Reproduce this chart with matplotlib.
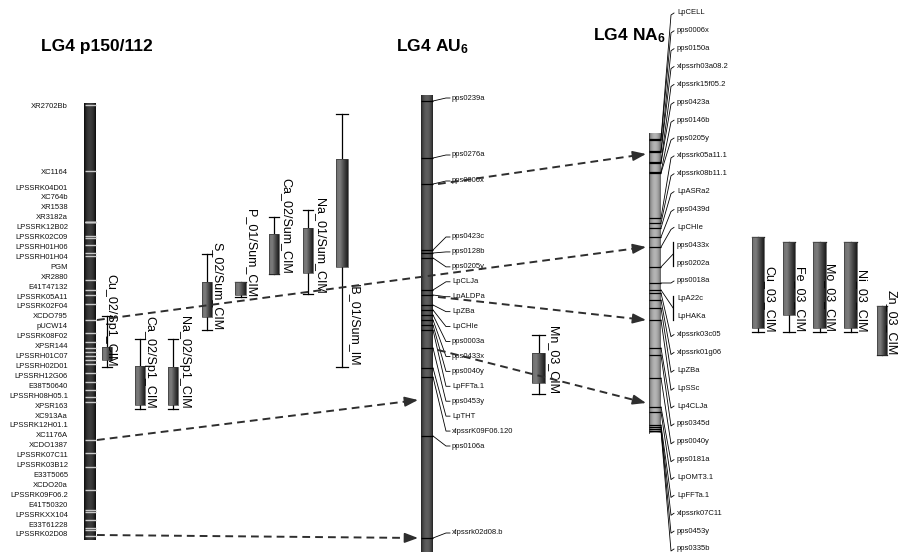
import numpy as np
import matplotlib
matplotlib.use('Agg')
import matplotlib.pyplot as plt
from matplotlib.colors import LinearSegmentedColormap

plt.rcParams['font.family'] = ['Liberation Sans', 'DejaVu Sans']
plt.rcParams['mathtext.fontset'] = 'custom'
plt.rcParams['mathtext.rm'] = 'Liberation Sans'
plt.rcParams['mathtext.bf'] = 'Liberation Sans:bold'

# ---------------- data ----------------
p150_markers = ["XR2702Bb", "XC1164", "LPSSRK04D01", "XC764b", "XR1538", "XR3182a",
                "LPSSRK12B02", "LPSSRK02C09", "LPSSRH01H06", "LPSSRH01H04", "PGM",
                "XR2880", "E41T47132", "LPSSRK05A11", "LPSSRK02F04", "XCDO795",
                "pUCW14", "LPSSRK08F02", "XPSR144", "LPSSRH01C07", "LPSSRH02D01",
                "LPSSRH12G06", "E38T50640", "LPSSRH08H05.1", "XPSR163", "XC913Aa",
                "LPSSRK12H01.1", "XC1176A", "XCDO1387", "LPSSRK07C11", "LPSSRK03B12",
                "E33T5065", "XCDO20a", "LPSSRK09F06.2", "E41T50320", "LPSSRKXX104",
                "E33T61228", "LPSSRK02D08"]
p150_pos = [105, 171, 222, 222, 222, 222, 236, 238, 245, 253, 256, 280, 290, 295, 304,
            320, 333, 342, 348, 352, 356, 360, 364, 373, 382, 390, 397, 402, 440, 453,
            467, 490, 510, 512, 520, 528, 530, 536]
p150_span = (103, 540)

au6_markers = ["pps0239a", "pps0276a", "pps0006x", "pps0423c", "pps0128b", "pps0205y",
               "LpCLJa", "LpALDPa", "LpZBa", "LpCHIe", "pps0003a", "pps0433x",
               "pps0040y", "LpFFTa.1", "pps0453y", "LpTHT", "xlpssrK09F06.120",
               "pps0106a", "xlpssrk02d08.b"]
au6_pos = [101, 158, 184, 250, 253, 258, 290, 295, 305, 310, 315, 320, 325, 330, 348,
           368, 377, 436, 538]
au6_span = (95, 552)

na6_markers = ["LpCELL", "pps0006x", "pps0150a", "xlpssrh03a08.2", "xlpssrk15f05.2",
               "pps0423a", "pps0146b", "pps0205y", "xlpssrk05a11.1", "xlpssrk08b11.1",
               "LpASRa2", "pps0439d", "LpCHIe", "pps0433x", "pps0202a", "pps0018a",
               "LpA22c", "LpHAKa", "xlpssrk03c05", "xlpssrk01g06", "LpZBa", "LpSSc",
               "Lp4CLJa", "pps0345d", "pps0040y", "pps0181a", "LpOMT3.1", "LpFFTa.1",
               "xlpssrk07C11", "pps0453y", "pps0335b"]
na6_pos = [139, 140, 151, 152, 162, 163, 172, 173, 218, 223, 228, 237, 247, 267, 267,
           283, 290, 290, 293, 300, 308, 320, 348, 355, 378, 407, 412, 425, 427, 429, 431]
na6_span = (133, 433)

qtl_names = ["Cu_02/Sp1_CIM", "Ca_02/Sp1_CIM", "Na_02/Sp1_CIM", "S_02/Sum_CIM",
             "P_01/Sum_CIM", "Ca_02/Sum_CIM", "Na_01/Sum_CIM", "IB_01/Sum_IM",
             "Mn_03_CIM", "Cu_03_CIM", "Fe_03_CIM", "Mo_03_CIM", "Ni_03_CIM", "Zn_03_CIM"]
qtl_box_top = [347, 366, 367, 282, 282, 234, 228, 159, 353, 237, 242, 242, 242, 306]
qtl_box_bottom = [360, 405, 405, 317, 295, 274, 273, 267, 383, 328, 315, 328, 328, 355]
qtl_ci_top = [316, 339, 339, 254, 282, 217, 210, 114, 335, 237, 242, 242, 242, 306]
qtl_ci_bottom = [367, 409, 409, 330, 297, 274, 294, 367, 394, 332, 332, 332, 332, 355]

arrow_from_map = ["p150", "AU6", "AU6", "AU6", "p150", "p150"]
arrow_from_pos = [320, 184, 297, 350, 440, 535]
arrow_to_map = ["NA6", "NA6", "NA6", "NA6", "AU6", "AU6"]
arrow_to_pos = [247, 154, 320, 403, 400, 538]

# ---------------- layout ----------------
W, H = 899, 554
chrom_x = {"p150": (84, 96), "AU6": (421, 433), "NA6": (649, 661)}
qtl_x = [106.5, 140, 173, 207, 240.5, 274, 308, 342, 538.5, 758, 789, 819.5, 850.5, 882]
qtl_w = [10, 10, 10, 10, 11, 10, 10, 12, 13, 12, 12, 13, 13, 10]
qtl_label_dx = [4, 9, 11, 10, 10.5, 12, 12, 12, 14.5, 11, 10, 9.5, 10.5, 10]
arrow_start_x = {"p150": 97, "AU6": 438}
arrow_end_x = {"AU6": 418, "NA6": 646}

fig = plt.figure(figsize=(W / 100, H / 100), dpi=100)
ax = fig.add_axes([0, 0, 1, 1])
ax.axis('off')


def cylinder(x0, x1, y0, y1, c_edge, c_mid, z):
    t = np.linspace(0, 1, 64)
    v = np.sin(np.pi * t) ** 0.7
    cmap = LinearSegmentedColormap.from_list('c', [c_edge, c_mid])
    ax.imshow(v[None, :], extent=(x0, x1, y1, y0), cmap=cmap, vmin=0, vmax=1,
              aspect='auto', interpolation='bilinear', zorder=z)


def box_grad(x0, x1, y0, y1, z):
    t = np.linspace(0, 1, 64)
    cmap = LinearSegmentedColormap.from_list('b', ['#707070', '#7c7c7c', '#4a4a4a', '#1c1c1c'])
    ax.imshow(t[None, :], extent=(x0, x1, y1, y0), cmap=cmap, vmin=0, vmax=1,
              aspect='auto', interpolation='bilinear', zorder=z)


MK_FS = 5.5

# ---- p150/112 ----
x0, x1 = chrom_x["p150"]
cylinder(x0, x1, p150_span[0], p150_span[1], '#050505', '#3c3c3c', 2)
for y in p150_pos:
    ax.plot([x0 + 0.5, x1 - 0.5], [y, y], color='#c8c8c8', lw=1.0, zorder=3,
            solid_capstyle='butt')
p150_label_y = np.r_[np.array(p150_pos[:2]) + 2, np.linspace(188, 535, len(p150_pos) - 2)]
for name, ly in zip(p150_markers, p150_label_y):
    ax.text(68, ly, name, ha='right', va='center', fontsize=MK_FS, color='#111111')

# ---- AU6 ----
x0, x1 = chrom_x["AU6"]
cylinder(x0, x1, au6_span[0], au6_span[1], '#1c1c1c', '#5e5e5e', 2)
au6_label_y = np.r_[np.array(au6_pos[:3]) - 3, np.linspace(237, 446, 15), au6_pos[-1] - 5]
for name, my, ly in zip(au6_markers, au6_pos, au6_label_y):
    ax.plot([x0, x1], [my, my], color='black', lw=0.9, zorder=3, solid_capstyle='butt')
    ax.plot([x1, 446, 450], [my, ly, ly], color='black', lw=0.6, zorder=3)
    ax.text(452, ly, name, ha='left', va='center', fontsize=MK_FS, color='#111111')

# ---- NA6 ----
x0, x1 = chrom_x["NA6"]
cylinder(x0, x1, na6_span[0], na6_span[1], '#5a5a5a', '#b4b4b4', 2)
ax.plot([x0, x0], na6_span, color='#333333', lw=0.6, zorder=3)
na6_label_y = np.linspace(13, 549, len(na6_pos))
i = 0
n = len(na6_pos)
while i < n:
    my = na6_pos[i]
    ax.plot([x0, x1], [my, my], color='black', lw=0.9, zorder=3, solid_capstyle='butt')
    if i + 1 < n and na6_pos[i + 1] == my:
        ya, yb = na6_label_y[i], na6_label_y[i + 1]
        ax.plot([x1, 673], [my, (ya + yb) / 2], color='black', lw=0.6, zorder=3)
        ax.plot([673, 673], [ya - 3, yb + 3], color='black', lw=0.9, zorder=3)
        for k in (i, i + 1):
            ax.text(677, na6_label_y[k], na6_markers[k], ha='left', va='center',
                    fontsize=MK_FS, color='#111111')
        i += 2
        continue
    ly = na6_label_y[i]
    ax.plot([x1, 671, 674], [my, ly + 2, ly], color='black', lw=0.6, zorder=3)
    ax.text(677, ly, na6_markers[i], ha='left', va='center', fontsize=MK_FS,
            color='#111111')
    i += 1

# ---- QTLs ----
for k, name in enumerate(qtl_names):
    cx, w = qtl_x[k], qtl_w[k]
    ax.plot([cx, cx], [qtl_ci_top[k], qtl_ci_bottom[k]], color='black', lw=0.9, zorder=4)
    for yy in (qtl_ci_top[k], qtl_ci_bottom[k]):
        ax.plot([cx - w / 2, cx + w / 2], [yy, yy], color='black', lw=0.9, zorder=4)
    box_grad(cx - w / 2, cx + w / 2, qtl_box_top[k], qtl_box_bottom[k], 5)
    ax.add_patch(plt.Rectangle((cx - w / 2, qtl_box_top[k]), w,
                               qtl_box_bottom[k] - qtl_box_top[k], fill=False,
                               edgecolor='#3a3a3a', lw=0.5, zorder=6))
    ax.text(cx + qtl_label_dx[k], qtl_ci_bottom[k], name, rotation=270, ha='center',
            va='bottom', fontsize=9, color='black', zorder=7)

# ---- homology arrows ----
for fm, fp, tm, tp in zip(arrow_from_map, arrow_from_pos, arrow_to_map, arrow_to_pos):
    xs, xe = arrow_start_x[fm], arrow_end_x[tm]
    d = np.hypot(xe - xs, tp - fp)
    ux, uy = (xe - xs) / d, (tp - fp) / d
    xm, ym = xe - 9 * ux, tp - 9 * uy
    ax.plot([xs, xm], [fp, ym], color='#2e2e2e', lw=1.4, linestyle=(0, (4, 2.6)),
            zorder=8)
    ax.annotate('', xy=(xe, tp), xytext=(xe - 12 * ux, tp - 12 * uy),
                arrowprops=dict(arrowstyle='-|>,head_length=0.8,head_width=0.3',
                                color='#2e2e2e', lw=1.2, shrinkA=0, shrinkB=0,
                                mutation_scale=10), zorder=8)

# ---- titles ----
ax.text(96.5, 46, 'LG4 p150/112', ha='center', va='center', fontsize=12.5,
        fontweight='bold')
ax.text(433, 47, r'$\mathbf{LG4\ AU_6}$', ha='center', va='center', fontsize=12.5)
ax.text(630, 36, r'$\mathbf{LG4\ NA_6}$', ha='center', va='center', fontsize=12.5)

ax.set_xlim(0, W)
ax.set_ylim(H, 0)
fig.savefig('out.png', dpi=100)
